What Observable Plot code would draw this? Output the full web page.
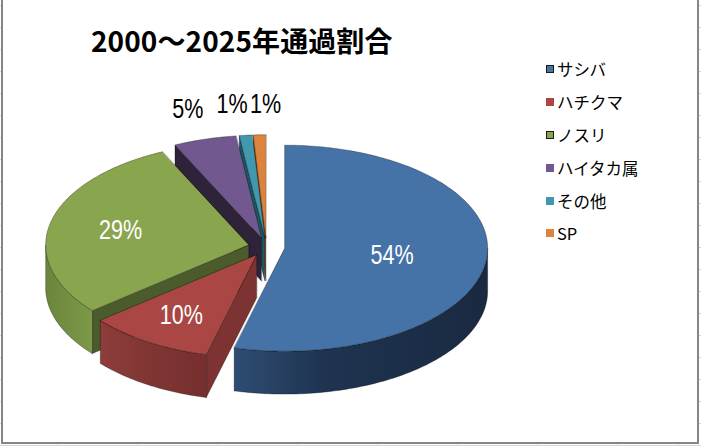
<!DOCTYPE html>
<html><head><meta charset="utf-8">
<script src="https://cdn.jsdelivr.net/npm/d3@7"></script>
<script src="https://cdn.jsdelivr.net/npm/@observablehq/plot@0.6"></script>
<style>
html,body{margin:0;padding:0;}
#page{position:relative;width:701px;height:446px;overflow:hidden;
  background-color:#fff;
  background-image:
    repeating-linear-gradient(to bottom, transparent 0, transparent 5px, #d6d6d6 5px, #d6d6d6 6px, transparent 6px, transparent 22px),
    repeating-linear-gradient(to right, transparent 0, transparent 57px, #d6d6d6 57px, #d6d6d6 58px, transparent 58px, transparent 80px);
  background-position:0 0, -80px 0;}
#frame{position:absolute;left:1px;top:-10px;width:698px;height:454px;box-sizing:border-box;border:2px solid #868686;background:#fff;}
#chart{position:absolute;left:0;top:0;}
#title{position:absolute;left:91px;top:26px;font-family:"Noto Sans CJK JP",sans-serif;font-weight:700;font-size:28px;line-height:28px;color:#000;white-space:nowrap;letter-spacing:0.1px;}
#legend{position:absolute;left:546px;top:53px;font-family:"Noto Sans CJK JP",sans-serif;font-size:16.5px;color:#000;}
#legend .row{display:flex;align-items:center;height:32.8px;white-space:nowrap;}
#legend .sw{width:8px;height:8px;margin-right:3px;box-sizing:border-box;}
</style></head>
<body>
<div id="page">
  <div id="frame"></div>
  <div id="chart"></div>
  <div id="title">2000～2025年通過割合</div>
  <div id="legend"></div>
</div>
<script>
// ---- data ----
const categories = ["サシバ", "ハチクマ", "ノスリ", "ハイタカ属", "その他", "SP"];
const values = [54, 10, 29, 5, 1, 1];
const labels = ["54%", "10%", "29%", "5%", "1%", "1%"];

// ---- styles ----
const topColors = ["#4572A7", "#AA4643", "#89A54E", "#71588F", "#4198AF", "#DB843D"];
const faceColors = ["#233a57", "#7d3331", "#4b5b2b", "#2e2339", "#1f5563", "#8b5023"];
const wallStops = [
  [["0", "#2e4d73"], ["0.35", "#1f3451"], ["1", "#192940"]],
  [["0", "#8d3d3b"], ["0.5", "#7f3533"], ["1", "#762f2e"]],
  [["0", "#6b863b"], ["1", "#7c9848"]],
  [["0", "#4a3a5e"], ["1", "#3a2d4a"]],
  [["0", "#2c7487"], ["1", "#235e6e"]],
  [["0", "#b06a30"], ["1", "#9a5c28"]]
];
const legendBorder = [true, false, true, false, false, false];

const DEPTH = 0.417;   // thickness in radius units (vertical)
const EXPLODE = 0.09;  // explosion in radius units
const LABEL_SQUEEZE = 0.77; // narrow label face

// ---- geometry from data ----
const total = d3.sum(values);
let acc = 0;
const slices = values.map((v, i) => {
  const a0 = acc / total * 2 * Math.PI;
  acc += v;
  const a1 = acc / total * 2 * Math.PI;
  const mid = (a0 + a1) / 2;
  return {i, v, a0, a1, mid, ox: EXPLODE * Math.sin(mid), oy: EXPLODE * Math.cos(mid)};
});

function arcPts(a0, a1, ox, oy, dy = 0) {
  const n = Math.max(2, Math.ceil((a1 - a0) / (Math.PI / 180)));
  return d3.range(n + 1).map(k => {
    const a = a0 + (a1 - a0) * k / n;
    return {x: ox + Math.sin(a), y: oy + Math.cos(a) + dy};
  });
}
function radialFace(s, a) {
  const ex = s.ox + Math.sin(a), ey = s.oy + Math.cos(a);
  return [{x: s.ox, y: s.oy}, {x: ex, y: ey}, {x: ex, y: ey - DEPTH}, {x: s.ox, y: s.oy - DEPTH}];
}

const polys = [];
const order = slices.slice().sort((p, q) => Math.cos(q.mid) - Math.cos(p.mid));
for (const s of order) {
  if (Math.sin(s.a0) < -1e-6) polys.push({pts: radialFace(s, s.a0), fill: faceColors[s.i]});
  if (Math.sin(s.a1) > 1e-6) polys.push({pts: radialFace(s, s.a1), fill: faceColors[s.i]});
  const ws = Math.max(s.a0, Math.PI / 2), we = Math.min(s.a1, 3 * Math.PI / 2);
  if (we > ws) {
    polys.push({pts: [...arcPts(ws, we, s.ox, s.oy), ...arcPts(ws, we, s.ox, s.oy, -DEPTH).reverse()],
                fill: `url(#wall${s.i})`});
  }
  polys.push({pts: [{x: s.ox, y: s.oy}, ...arcPts(s.a0, s.a1, s.ox, s.oy)], fill: topColors[s.i]});
}

// labels: inside for large slices (near centroid), outside for small ones
const labelData = slices.map(s => {
  const half = (s.a1 - s.a0) / 2;
  const inside = s.v >= 10;
  const f = inside ? 0.3 + 0.6 * (2 * Math.sin(half) / (3 * half)) : 1.3;
  return {text: labels[s.i], inside, x: s.ox + f * Math.sin(s.mid), y: s.oy + f * Math.cos(s.mid)};
});
// spread overlapping outside labels horizontally
const outs = labelData.filter(d => !d.inside).sort((a, b) => a.x - b.x);
const GAP = 0.165;
for (let k = 1; k < outs.length; k++) {
  const a = outs[k - 1], b = outs[k];
  if (b.x - a.x < GAP && Math.abs(b.y - a.y) < 0.15) {
    const m = (a.x + b.x) / 2;
    a.x = m - GAP / 2; b.x = m + GAP / 2;
  }
}

const chart = Plot.plot({
  width: 701, height: 446, margin: 0,
  x: {domain: [-1, 1], range: [63, 469], axis: null},
  y: {domain: [-1, 1], range: [349.5, 143.5], axis: null},
  style: {background: "transparent", overflow: "visible"},
  marks: [
    ...polys.map(p => Plot.line(p.pts, {x: "x", y: "y", curve: "linear-closed", fill: p.fill,
                                         stroke: "#000", strokeWidth: 0.6, strokeOpacity: 0.5})),
    Plot.text(labelData, {x: "x", y: "y", text: "text",
      fill: d => d.inside ? "white" : "black",
      fontSize: 28, fontFamily: "'Liberation Sans',Arial,sans-serif"})
  ]
});

const defs = d3.select(chart).insert("defs", ":first-child");
wallStops.forEach((stops, i) => {
  const g = defs.append("linearGradient").attr("id", `wall${i}`)
    .attr("x1", "0").attr("x2", "1").attr("y1", "0").attr("y2", "0");
  stops.forEach(([o, c]) => g.append("stop").attr("offset", o).attr("stop-color", c));
});
document.getElementById("chart").appendChild(chart);

// condense label glyphs horizontally about their own centre
d3.select(chart).selectAll("text").each(function () {
  const b = this.getBBox();
  const cx = b.x + b.width / 2;
  const t = this.getAttribute("transform") || "";
  this.setAttribute("transform", `${t} translate(${cx},0) scale(${LABEL_SQUEEZE},1) translate(${-cx},0)`);
});

// legend
const lg = d3.select("#legend");
categories.forEach((c, i) => {
  const row = lg.append("div").attr("class", "row");
  row.append("div").attr("class", "sw").style("background", topColors[i])
    .style("border", legendBorder[i] ? "1px solid #1a1a1a" : "none");
  row.append("span").text(c);
});
</script>
</body></html>
